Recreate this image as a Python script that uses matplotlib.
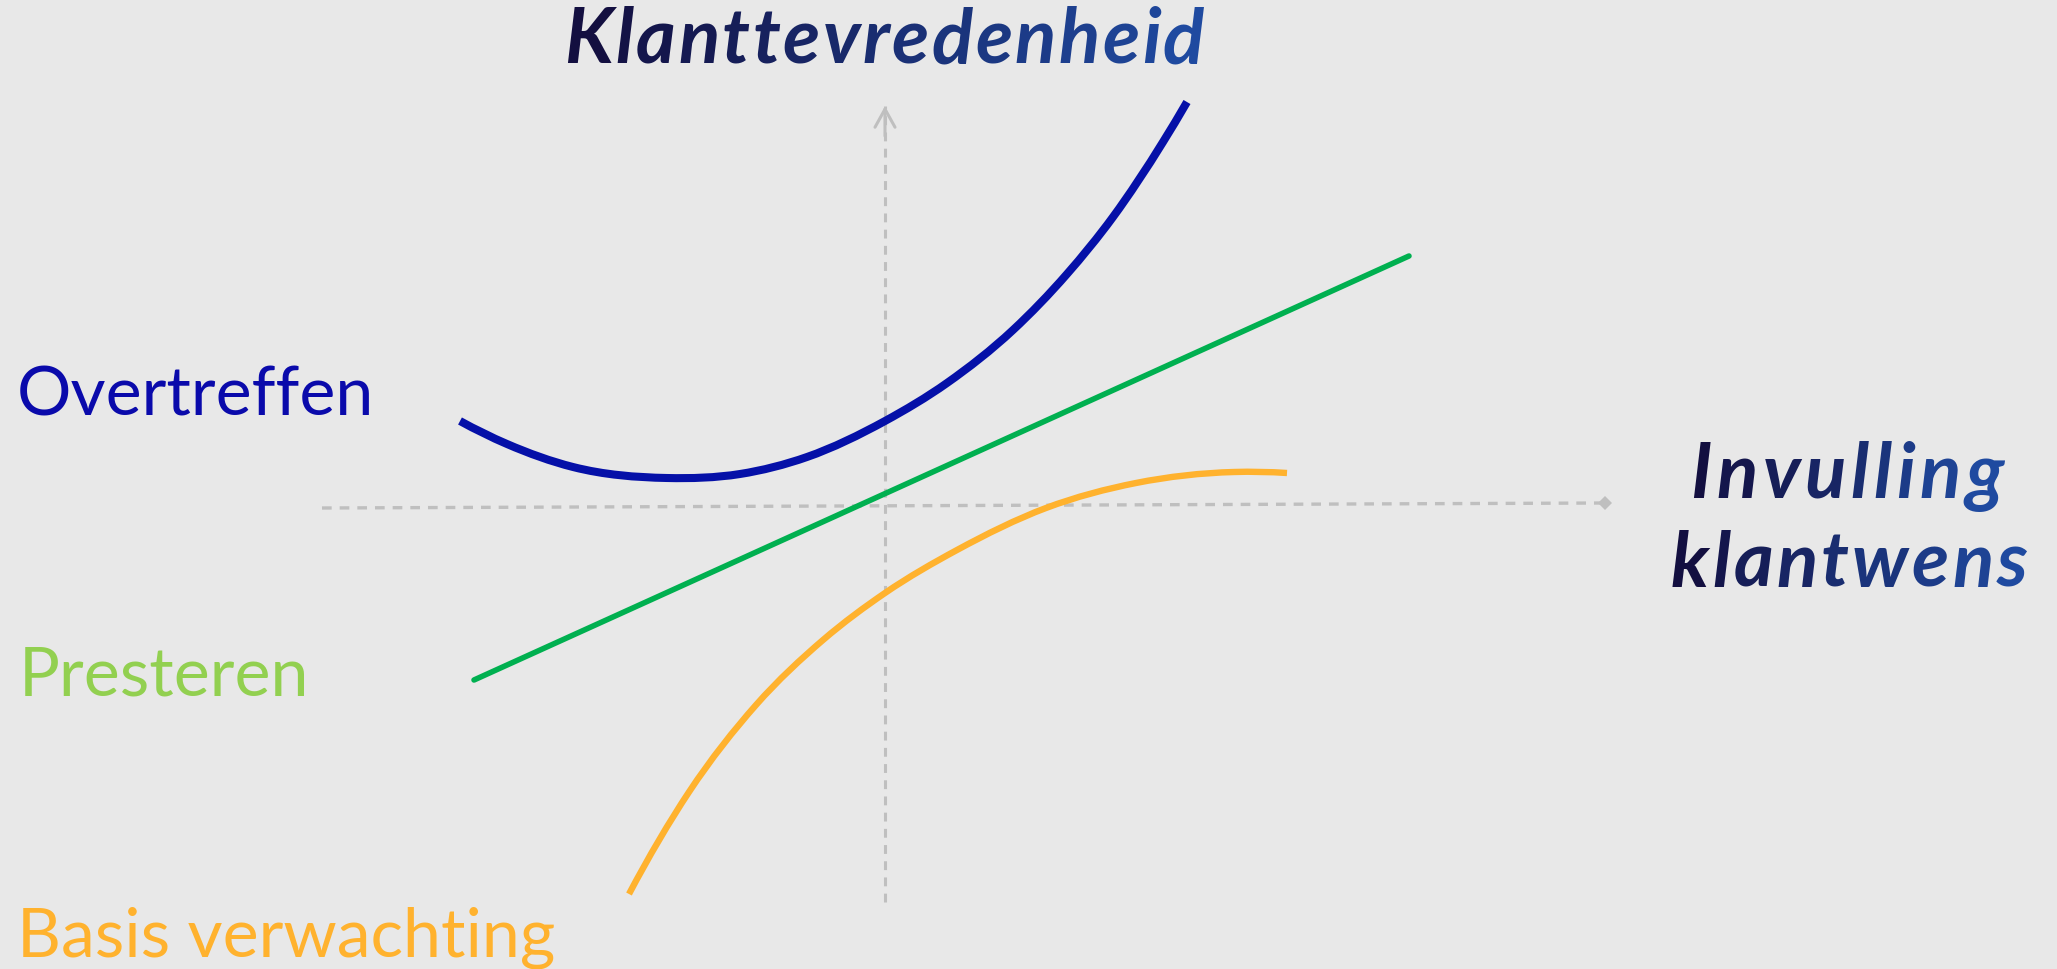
import matplotlib
matplotlib.use("Agg")
import matplotlib.pyplot as plt
import numpy as np
from matplotlib.font_manager import FontProperties, findfont, get_font
from matplotlib.colors import to_rgb
from matplotlib.path import Path
from matplotlib.patches import PathPatch

# ---------------- data (conceptual units, origin where the two axes cross) -------------
series_names = ["Overtreffen", "Presteren", "Basis verwachting"]
axis_labels = ["Klanttevredenheid", ["Invulling", "klantwens"]]

overtreffen_x = [-4.25, -3.78, -3.12, -2.18, -1.45, -0.78, 0.00, 0.62, 1.28, 1.82, 2.28, 2.78, 3.02]
overtreffen_y = [0.84, 0.61, 0.38, 0.27, 0.31, 0.48, 0.84, 1.22, 1.75, 2.31, 2.88, 3.63, 4.03]

presteren_x = [-4.11, 5.24]
presteren_y = [-1.75, 2.49]

basis_x = [-2.56, -1.96, -1.29, -0.62, 0.00, 0.72, 1.61, 2.51, 3.49, 4.02]
basis_y = [-3.89, -2.87, -2.00, -1.35, -0.88, -0.45, -0.03, 0.22, 0.33, 0.32]

haxis_x = [-5.63, 7.20]
haxis_y = [-0.03, 0.02]
vaxis_x = [0.0, 0.0]
vaxis_y = [-3.97, 3.99]

# ---------------- style ----------------
W, H, DPI = 2057, 970, 100
BG = "#e8e8e8"
C_BLUE_LINE = "#0510a8"
C_BLUE_TXT = "#0a0aab"
C_GREEN_LINE = "#00b050"
C_GREEN_TXT = "#92d050"
C_ORANGE = "#ffb22e"
C_AXIS = "#bfbfbf"
GRAD0 = "#130f40"
GRAD1 = "#1f4aa0"

fig = plt.figure(figsize=(W / DPI, H / DPI), dpi=DPI, facecolor=BG)
ax = fig.add_axes([0, 0, 1, 1])
ax.set_facecolor(BG)
ax.set_xlim(-8.85, 11.72)
ax.set_ylim(-4.64, 5.06)
ax.axis("off")


def smooth_path(xs, ys):
    """Smooth cubic (Hermite) curve through the given points, as Bezier segments."""
    x = np.asarray(xs, float)
    y = np.asarray(ys, float)
    h = np.diff(x)
    d = np.diff(y) / h
    m = np.empty_like(x)
    m[1:-1] = (d[:-1] * h[1:] + d[1:] * h[:-1]) / (h[:-1] + h[1:])
    m[0] = ((2 * h[0] + h[1]) * d[0] - h[0] * d[1]) / (h[0] + h[1])
    m[-1] = ((2 * h[-1] + h[-2]) * d[-1] - h[-1] * d[-2]) / (h[-1] + h[-2])
    verts = [(x[0], y[0])]
    codes = [Path.MOVETO]
    for i in range(len(h)):
        verts += [(x[i] + h[i] / 3, y[i] + m[i] * h[i] / 3),
                  (x[i + 1] - h[i] / 3, y[i + 1] - m[i + 1] * h[i] / 3),
                  (x[i + 1], y[i + 1])]
        codes += [Path.CURVE4] * 3
    return Path(verts, codes)


dash = (0, (2.9, 2.4))
ax.plot(haxis_x, haxis_y, color=C_AXIS, lw=2.4, linestyle=dash, zorder=1)
ax.plot(haxis_x[-1:], haxis_y[-1:], marker="D", markersize=7, color=C_AXIS,
        markeredgewidth=0, zorder=1)
ax.plot(vaxis_x, vaxis_y, color=C_AXIS, lw=2.2, linestyle=dash, zorder=1)
ax.annotate("", xy=(vaxis_x[1], vaxis_y[1]), xytext=(vaxis_x[1], vaxis_y[1] - 0.3),
            arrowprops=dict(arrowstyle="->,head_length=0.65,head_width=0.36",
                            color=C_AXIS, lw=2.2, mutation_scale=20,
                            shrinkA=0, shrinkB=0), zorder=1)

ax.plot(presteren_x, presteren_y, color=C_GREEN_LINE, lw=4.0, solid_capstyle="round", zorder=3)
ax.add_patch(PathPatch(smooth_path(basis_x, basis_y), fill=False, edgecolor=C_ORANGE,
                       lw=4.6, capstyle="butt", joinstyle="round", zorder=3))
ax.add_patch(PathPatch(smooth_path(overtreffen_x, overtreffen_y), fill=False,
                       edgecolor=C_BLUE_LINE, lw=5.8, capstyle="butt", joinstyle="round",
                       zorder=4))

# ---------------- labels ----------------
lab_fp = dict(family=["Lato", "DejaVu Sans"], fontsize=49)
fig.text(17 / W, 1 - 415 / H, series_names[0], color=C_BLUE_TXT, va="baseline", ha="left", **lab_fp)
fig.text(19 / W, 1 - 696 / H, series_names[1], color=C_GREEN_TXT, va="baseline", ha="left", **lab_fp)
fig.text(17 / W, 1 - 957 / H, series_names[2], color=C_ORANGE, va="baseline", ha="left", **lab_fp)


def mix(c0, c1, t):
    a, b = np.array(to_rgb(c0)), np.array(to_rgb(c1))
    return tuple(a + (b - a) * t)


def gradient_text(s, cx, base_y, size, width):
    fp = FontProperties(family=["Lato", "DejaVu Sans"], weight="bold", style="italic", size=size)
    try:
        from matplotlib import _text_helpers
        font = get_font(findfont(fp))
        font.set_size(size, DPI)
        items = list(_text_helpers.layout(s, font))
        last = items[-1]
        g = last.ft_object.load_char(ord(last.char))
        total = last.x + g.linearHoriAdvance / 65536
        xs = [it.x for it in items]
        chars = [it.char for it in items]
    except Exception:
        fig.text(cx / W, 1 - base_y / H, s, fontproperties=fp, color=mix(GRAD0, GRAD1, 0.5),
                 ha="center", va="baseline")
        return
    n = len(chars)
    track = max(0.0, (width - total) / max(n - 1, 1))
    full = total + track * (n - 1)
    x0 = cx - full / 2
    for i, (c, x) in enumerate(zip(chars, xs)):
        t = i / max(n - 1, 1)
        fig.text((x0 + x + i * track) / W, 1 - base_y / H, c, fontproperties=fp,
                 color=mix(GRAD0, GRAD1, t), ha="left", va="baseline")


gradient_text(axis_labels[0], 884, 63, 55, 640)
gradient_text(axis_labels[1][0], 1847, 498, 55, 313)
gradient_text(axis_labels[1][1], 1849, 587, 55, 357)

fig.savefig("out.png", dpi=DPI, facecolor=BG)
